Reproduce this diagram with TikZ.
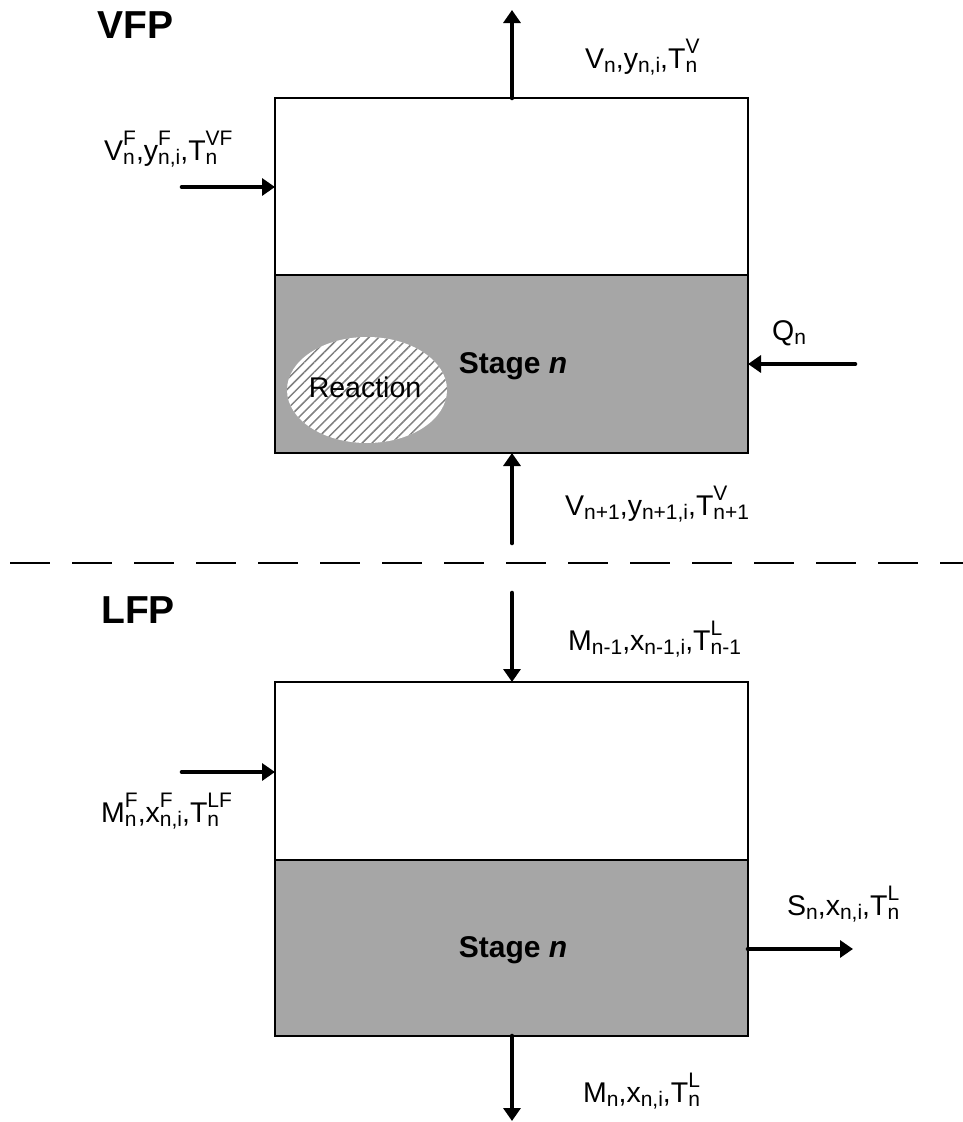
\documentclass[tikz,border=0pt]{standalone}
\usepackage{fontspec}
\setmainfont{Liberation Sans}
\usetikzlibrary{arrows.meta,patterns.meta}
\newcommand\lo[1]{\raisebox{-4.5pt}{\fontsize{21}{21}\selectfont #1}}
\newcommand\hi[1]{\raisebox{15pt}{\fontsize{21}{21}\selectfont #1}}
\newcommand\hilo[2]{\setbox0=\hbox{\hi{#1}}\setbox2=\hbox{\lo{#2}}\ifdim\wd0>\wd2 \rlap{\box2}\box0\else\rlap{\box0}\box2\fi}
\definecolor{stagegray}{RGB}{166,166,166}
\tikzset{
  flow/.style={line width=4.6pt, line cap=round, -{Triangle[length=13pt,width=17pt]}},
  boxline/.style={draw=black, line width=1.3pt},
  lab/.style={anchor=base west, inner sep=0pt, font=\fontsize{28.5}{32}\selectfont},
  title/.style={anchor=base west, inner sep=0pt, font=\fontsize{39}{42}\selectfont\bfseries},
  stagetxt/.style={anchor=base, inner sep=0pt, font=\fontsize{30}{32}\selectfont\bfseries}
}
\begin{document}
\begin{tikzpicture}[x=1pt,y=-1pt]
\useasboundingbox (0,0) rectangle (963,1122);
% ---------- VFP ----------
\fill[stagegray] (275,275) rectangle (748,453);
\draw[boxline] (275,98) rectangle (748,453);
\draw[boxline] (275,275) -- (748,275);
\node[title] (vfp) at (97,38) {VFP};
\node[stagetxt] (st1) at (513,373) {Stage \textit{n}};
% reaction ellipse
\fill[white] (367,390) ellipse [x radius=80, y radius=53];
\fill[pattern={Lines[angle=45,distance=7pt,line width=1.5pt]}, pattern color=black!50] (367,390) ellipse [x radius=80, y radius=53];
\node[lab, anchor=base] (rx) at (365,397) {Reaction};
% flows
\coordinate (vtop) at (512,98);
\coordinate (vout) at (512,10);
\draw[flow] (vtop) -- (vout);
\node[lab] (lvn) at (585,68) {V\lo{n},y\lo{n,i},T\hilo{V}{n}};
\coordinate (vfin) at (182,187);
\coordinate (vfend) at (275,187);
\draw[flow] (vfin) -- (vfend);
\node[lab] (lvf) at (104,160) {V\hilo{F}{n},y\hilo{F}{n,i},T\hilo{VF}{n}};
\coordinate (qin) at (855,364);
\coordinate (qend) at (748,364);
\draw[flow] (qin) -- (qend);
\node[lab] (lq) at (772,340) {Q\lo{n}};
\coordinate (vbin) at (512,543);
\coordinate (vbend) at (512,453);
\draw[flow] (vbin) -- (vbend);
\node[lab] (lvb) at (565,515) {V\lo{n+1},y\lo{n+1,i},T\hilo{V}{n+1}};
% ---------- divider ----------
\coordinate (d1) at (10,563);
\coordinate (d2) at (963,563);
\draw[line width=2pt, dash pattern=on 40pt off 22pt] (d1) -- (d2);
% ---------- LFP ----------
\fill[stagegray] (275,860) rectangle (748,1036);
\draw[boxline] (275,682) rectangle (748,1036);
\draw[boxline] (275,860) -- (748,860);
\node[title] (lfp) at (101,623) {LFP};
\node[stagetxt] (st2) at (513,957) {Stage \textit{n}};
\coordinate (min) at (512,593);
\coordinate (mend) at (512,682);
\draw[flow] (min) -- (mend);
\node[lab] (lm1) at (568,650) {M\lo{n-1},x\lo{n-1,i},T\hilo{L}{n-1}};
\coordinate (mfin) at (182,772);
\coordinate (mfend) at (275,772);
\draw[flow] (mfin) -- (mfend);
\node[lab] (lmf) at (101,822) {M\hilo{F}{n},x\hilo{F}{n,i},T\hilo{LF}{n}};
\coordinate (sst) at (748,949);
\coordinate (send) at (853,949);
\draw[flow] (sst) -- (send);
\node[lab] (ls) at (787,915) {S\lo{n},x\lo{n,i},T\hilo{L}{n}};
\coordinate (mbst) at (512,1036);
\coordinate (mbend) at (512,1121);
\draw[flow] (mbst) -- (mbend);
\node[lab] (lmn) at (583,1102) {M\lo{n},x\lo{n,i},T\hilo{L}{n}};
\end{tikzpicture}
\end{document}
